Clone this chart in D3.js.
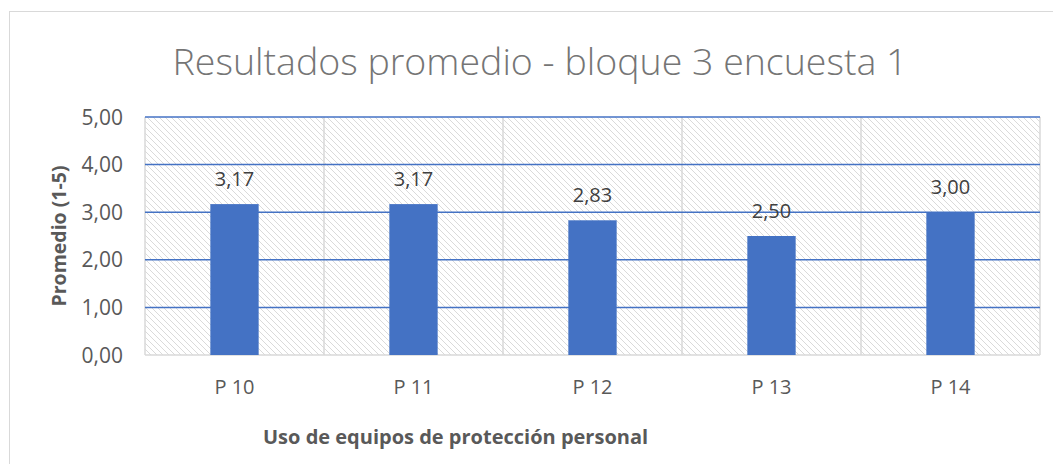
<!DOCTYPE html>
<html>
<head>
<meta charset="utf-8">
<script src="https://cdn.jsdelivr.net/npm/d3@7"></script>
<style>
  body { margin: 0; background: #fff; }
  text { font-family: "Open Sans", "Noto Sans", sans-serif; }
</style>
</head>
<body>
<div id="chart"></div>
<script>
// Data
const categories = ['P 10', 'P 11', 'P 12', 'P 13', 'P 14'];
const values = [3.17, 3.17, 2.83, 2.50, 3.00];
const yTicks = [0, 1, 2, 3, 4, 5];

const width = 1053;
const height = 464;
const margin = { top: 117, right: 13, bottom: 109, left: 145 };

const svg = d3.select('#chart')
    .append('svg')
    .attr('width', width)
    .attr('height', height);

// hatch pattern for plot background
const defs = svg.append('defs');
const pat = defs.append('pattern')
    .attr('id', 'hatch')
    .attr('patternUnits', 'userSpaceOnUse')
    .attr('width', 6)
    .attr('height', 6);
pat.append('rect').attr('width', 6).attr('height', 6).attr('fill', '#fff');
pat.append('path')
    .attr('d', 'M-1,-1 L7,7 M-1,5 L1,7 M5,-1 L7,1')
    .attr('stroke', '#dadada')
    .attr('stroke-width', 1);

// outer chart border
svg.append('rect')
    .attr('x', 9.5).attr('y', 11.5)
    .attr('width', 1060).attr('height', 470)
    .attr('fill', 'none')
    .attr('stroke', '#d9d9d9');

const x = d3.scaleBand()
    .domain(categories)
    .range([margin.left, width - margin.right])
    .paddingInner(0)
    .paddingOuter(0);

const y = d3.scaleLinear()
    .domain([0, 5])
    .range([height - margin.bottom, margin.top]);

const fmt = v => d3.format('.2f')(v).replace('.', ',');

// plot area
svg.append('rect')
    .attr('x', margin.left).attr('y', margin.top)
    .attr('width', width - margin.left - margin.right)
    .attr('height', height - margin.top - margin.bottom)
    .attr('fill', 'url(#hatch)');

// vertical category dividers
svg.append('g')
    .selectAll('line')
    .data(categories.concat(['end']))
    .enter()
    .append('line')
    .attr('x1', (d, i) => i < categories.length ? x(d) : x.range()[1])
    .attr('x2', (d, i) => i < categories.length ? x(d) : x.range()[1])
    .attr('y1', margin.top)
    .attr('y2', height - margin.bottom)
    .attr('stroke', '#d9d9d9')
    .attr('stroke-width', 1.5);

// horizontal gridlines
svg.append('g')
    .selectAll('line')
    .data(yTicks.slice(1))
    .enter()
    .append('line')
    .attr('x1', margin.left)
    .attr('x2', width - margin.right)
    .attr('y1', d => y(d))
    .attr('y2', d => y(d))
    .attr('stroke', '#4472c4')
    .attr('stroke-width', 1.5);

// bottom axis line
svg.append('line')
    .attr('x1', margin.left)
    .attr('x2', width - margin.right)
    .attr('y1', y(0))
    .attr('y2', y(0))
    .attr('stroke', '#d9d9d9')
    .attr('stroke-width', 1.5);

// bars
const barW = x.bandwidth() * 0.27;
svg.append('g')
    .selectAll('rect')
    .data(values)
    .enter()
    .append('rect')
    .attr('x', (d, i) => x(categories[i]) + x.bandwidth() / 2 - barW / 2)
    .attr('y', d => y(d))
    .attr('width', barW)
    .attr('height', d => y(0) - y(d))
    .attr('fill', '#4472c4');

// value labels
svg.append('g')
    .selectAll('text')
    .data(values)
    .enter()
    .append('text')
    .attr('x', (d, i) => x(categories[i]) + x.bandwidth() / 2)
    .attr('y', d => y(d) - 18)
    .attr('text-anchor', 'middle')
    .attr('font-size', 20)
    .attr('fill', '#404040')
    .text(fmt);

// y tick labels
svg.append('g')
    .selectAll('text')
    .data(yTicks)
    .enter()
    .append('text')
    .attr('x', 123)
    .attr('y', d => y(d))
    .attr('dy', '0.36em')
    .attr('text-anchor', 'end')
    .attr('font-size', 21)
    .attr('fill', '#595959')
    .text(fmt);

// x tick labels
svg.append('g')
    .selectAll('text')
    .data(categories)
    .enter()
    .append('text')
    .attr('x', d => x(d) + x.bandwidth() / 2)
    .attr('y', 394)
    .attr('text-anchor', 'middle')
    .attr('font-size', 20)
    .attr('fill', '#595959')
    .text(d => d);

// title
svg.append('text')
    .attr('x', 540)
    .attr('y', 75)
    .attr('text-anchor', 'middle')
    .attr('font-size', 37.5)
    .attr('font-weight', 300)
    .attr('fill', '#757575')
    .text('Resultados promedio - bloque 3 encuesta 1');

// axis titles
svg.append('text')
    .attr('transform', 'translate(66,' + ((margin.top + height - margin.bottom) / 2) + ') rotate(-90)')
    .attr('text-anchor', 'middle')
    .attr('font-size', 19.5)
    .attr('font-weight', 'bold')
    .attr('fill', '#595959')
    .text('Promedio (1-5)');

svg.append('text')
    .attr('x', 263)
    .attr('y', 444)
    .attr('font-size', 20)
    .attr('font-weight', 'bold')
    .attr('fill', '#595959')
    .text('Uso de equipos de protección personal');
</script>
</body>
</html>
